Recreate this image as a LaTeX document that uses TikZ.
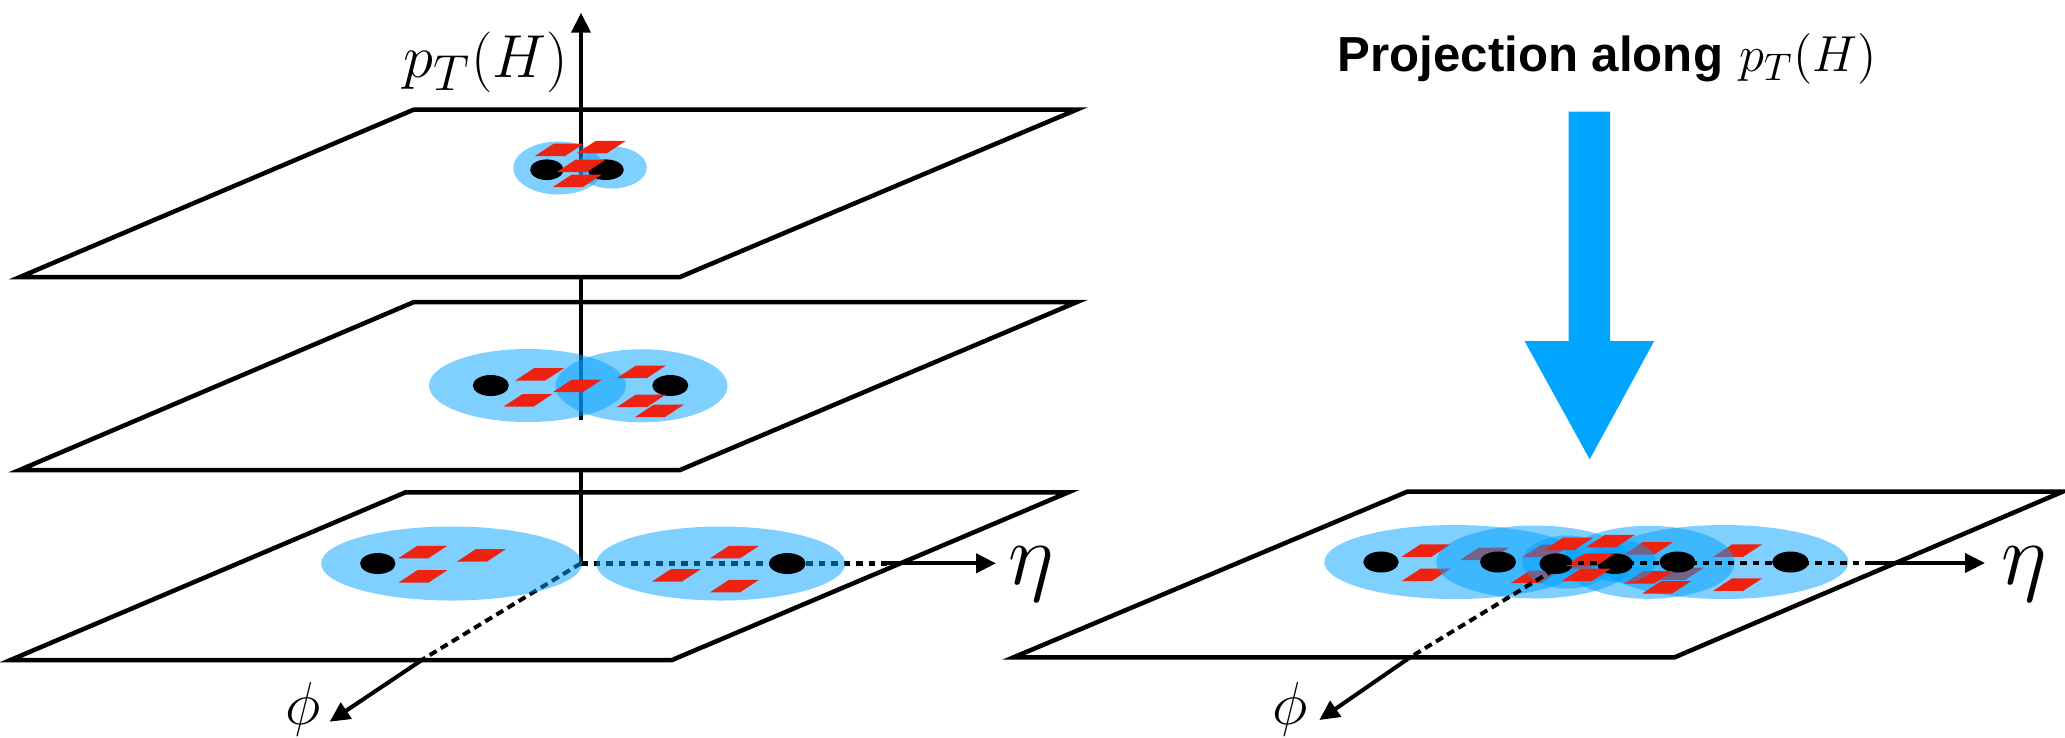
\documentclass[tikz,border=0pt]{standalone}
\usepackage{fontspec}
\newfontfamily\titlefont{Liberation Sans}
\usetikzlibrary{arrows.meta}
\definecolor{blobblue}{RGB}{0,160,255}
\definecolor{redc}{RGB}{238,34,17}
\definecolor{bigblue}{RGB}{0,165,255}
\tikzset{
  plane/.style={draw=black, fill=white, line width=0.45mm},
  axisline/.style={line width=0.4mm},
  axisarrow/.style={line width=0.4mm, -{Triangle[length=2mm,width=1.9mm]}},
  dottedaxis/.style={line width=0.45mm, dash pattern=on 0.65mm off 0.6mm},
  dashedaxis/.style={line width=0.4mm, dash pattern=on 0.8mm off 0.5mm},
  blob/.style={fill=blobblue, fill opacity=0.5},
  dot/.style={fill=black},
  shard/.style={fill=redc},
  lbl/.style={inner sep=0pt, outer sep=0pt},
}
\newcommand\shardat[2]{\fill[shard] (#1,#2) -- ++(30,0) -- ++(19,-12.5) -- ++(-30,0) -- cycle;}
\newcommand\topgroup{%
  \fill[blob] (-22.5,0) ellipse [x radius=45, y radius=26.5];
  \fill[blob] (31,-0.5) ellipse [x radius=35, y radius=21];
  \fill[dot] (-34,1.7) ellipse [x radius=16.7, y radius=10.3];
  \fill[dot] (25,1.7) ellipse [x radius=18, y radius=10.3];
  \shardat{-45.8}{-12}
  \shardat{-4}{-14.7}
  \shardat{-24}{4}
  \shardat{-28}{19}
}
\newcommand\midgroup{%
  \fill[blob] (-53.3,0) ellipse [x radius=98.5, y radius=36.5];
  \fill[blob] (60.7,0.3) ellipse [x radius=86, y radius=36.5];
  \fill[dot] (-90,0) ellipse [x radius=18, y radius=10.5];
  \fill[dot] (89.5,0) ellipse [x radius=18, y radius=10.5];
  \shardat{-65.8}{-4.8}
  \shardat{-77.5}{21.2}
  \shardat{-27.8}{6.5}
  \shardat{36.2}{-7.5}
  \shardat{36.2}{21.5}
  \shardat{54.2}{31.5}
}
\newcommand\botgroup{%
  \fill[blob] (-129.2,0) ellipse [x radius=130.5, y radius=37];
  \fill[blob] (139.9,0) ellipse [x radius=124.5, y radius=37];
  \fill[dot] (-203,0) ellipse [x radius=17.7, y radius=10.5];
  \fill[dot] (206.5,0) ellipse [x radius=18.3, y radius=10.5];
  \shardat{-182.5}{-5.2}
  \shardat{-124.1}{-1.8}
  \shardat{-182.5}{19.2}
  \shardat{129.2}{-5.2}
  \shardat{70.9}{18.2}
  \shardat{129.2}{28.8}
}
\begin{document}
\begin{tikzpicture}[x=0.1mm, y=-0.1mm]
\useasboundingbox (0,0) rectangle (2065,737);
% ---------- coordinates ----------
\coordinate (O) at (581,563.3);
\coordinate (pm) at (581,420);
\coordinate (pt) at (581,175);
\coordinate (ztip) at (581,12.7);
\coordinate (etaL) at (887,563.3);
\coordinate (etaTipL) at (996,563.3);
\coordinate (phiL) at (424.4,658.3);
\coordinate (phiTipL) at (329.7,721.7);
\coordinate (OR) at (1565,563);
\coordinate (etaR) at (1869.6,563);
\coordinate (etaTipR) at (1985,563);
\coordinate (phiR) at (1411,656.7);
\coordinate (phiTipR) at (1319.3,720);
% ---------- left: bottom plane ----------
\draw[plane] (10.5,660) -- (405.5,492.3) -- (1068.3,492.3) -- (672,660) -- cycle;
\draw[dottedaxis] (O) -- (etaL);
\draw[axisarrow] (etaL) -- (etaTipL);
\draw[dashedaxis] (O) -- (phiL);
\draw[axisarrow] (phiL) -- (phiTipL);
\draw[axisline] (O) -- (pm);
\begin{scope}[shift={(580.8,563.5)}]\botgroup\end{scope}
% ---------- left: middle plane ----------
\draw[plane] (19.6,470) -- (414,302) -- (1077,302) -- (680,470) -- cycle;
\draw[axisline] (pm) -- (pt);
\begin{scope}[shift={(580.8,385.5)}]\midgroup\end{scope}
% ---------- left: top plane ----------
\draw[plane] (20,277) -- (414,109.5) -- (1077,109.5) -- (680,277) -- cycle;
\draw[axisarrow] (pt) -- (ztip);
\begin{scope}[shift={(580.8,168)}]\topgroup\end{scope}
% labels left
\node[lbl, anchor=base east] (ptlabel) at (568,77) {\fontsize{19}{22}\selectfont $p_T(H)$};
\node[lbl] (etalabelL) at (1031,574) {\fontsize{23}{26}\selectfont $\eta$};
\node[lbl] (philabelL) at (303.5,709) {\fontsize{18}{20}\selectfont $\phi$};
% ---------- right: projection ----------
\node[lbl, anchor=base west] (title) at (1337.6,71.7) {\fontsize{14}{17}\selectfont{\titlefont\bfseries Projection along} {\fontsize{15}{17}\selectfont$p_T(H)$}};
\fill[bigblue] (1568.6,111.7) -- (1610,111.7) -- (1610,341) -- (1654.2,341) -- (1589.7,459.3) -- (1524.5,341) -- (1568.6,341) -- cycle;
\draw[plane] (1013.6,657.3) -- (1407.6,491.5) -- (2063,491.5) -- (1674.6,657.3) -- cycle;
\begin{scope}[shift={(1584,562)}]\botgroup\end{scope}
\begin{scope}[shift={(1588,562)}]\midgroup\end{scope}
\begin{scope}[shift={(1590,562)}]\topgroup\end{scope}
\draw[dottedaxis] (OR) -- (etaR);
\draw[axisarrow] (etaR) -- (etaTipR);
\draw[dashedaxis] (OR) -- (phiR);
\draw[axisarrow] (phiR) -- (phiTipR);
\node[lbl] (etalabelR) at (2024,574) {\fontsize{23}{26}\selectfont $\eta$};
\node[lbl] (philabelR) at (1290,709) {\fontsize{18}{20}\selectfont $\phi$};
\end{tikzpicture}
\end{document}
